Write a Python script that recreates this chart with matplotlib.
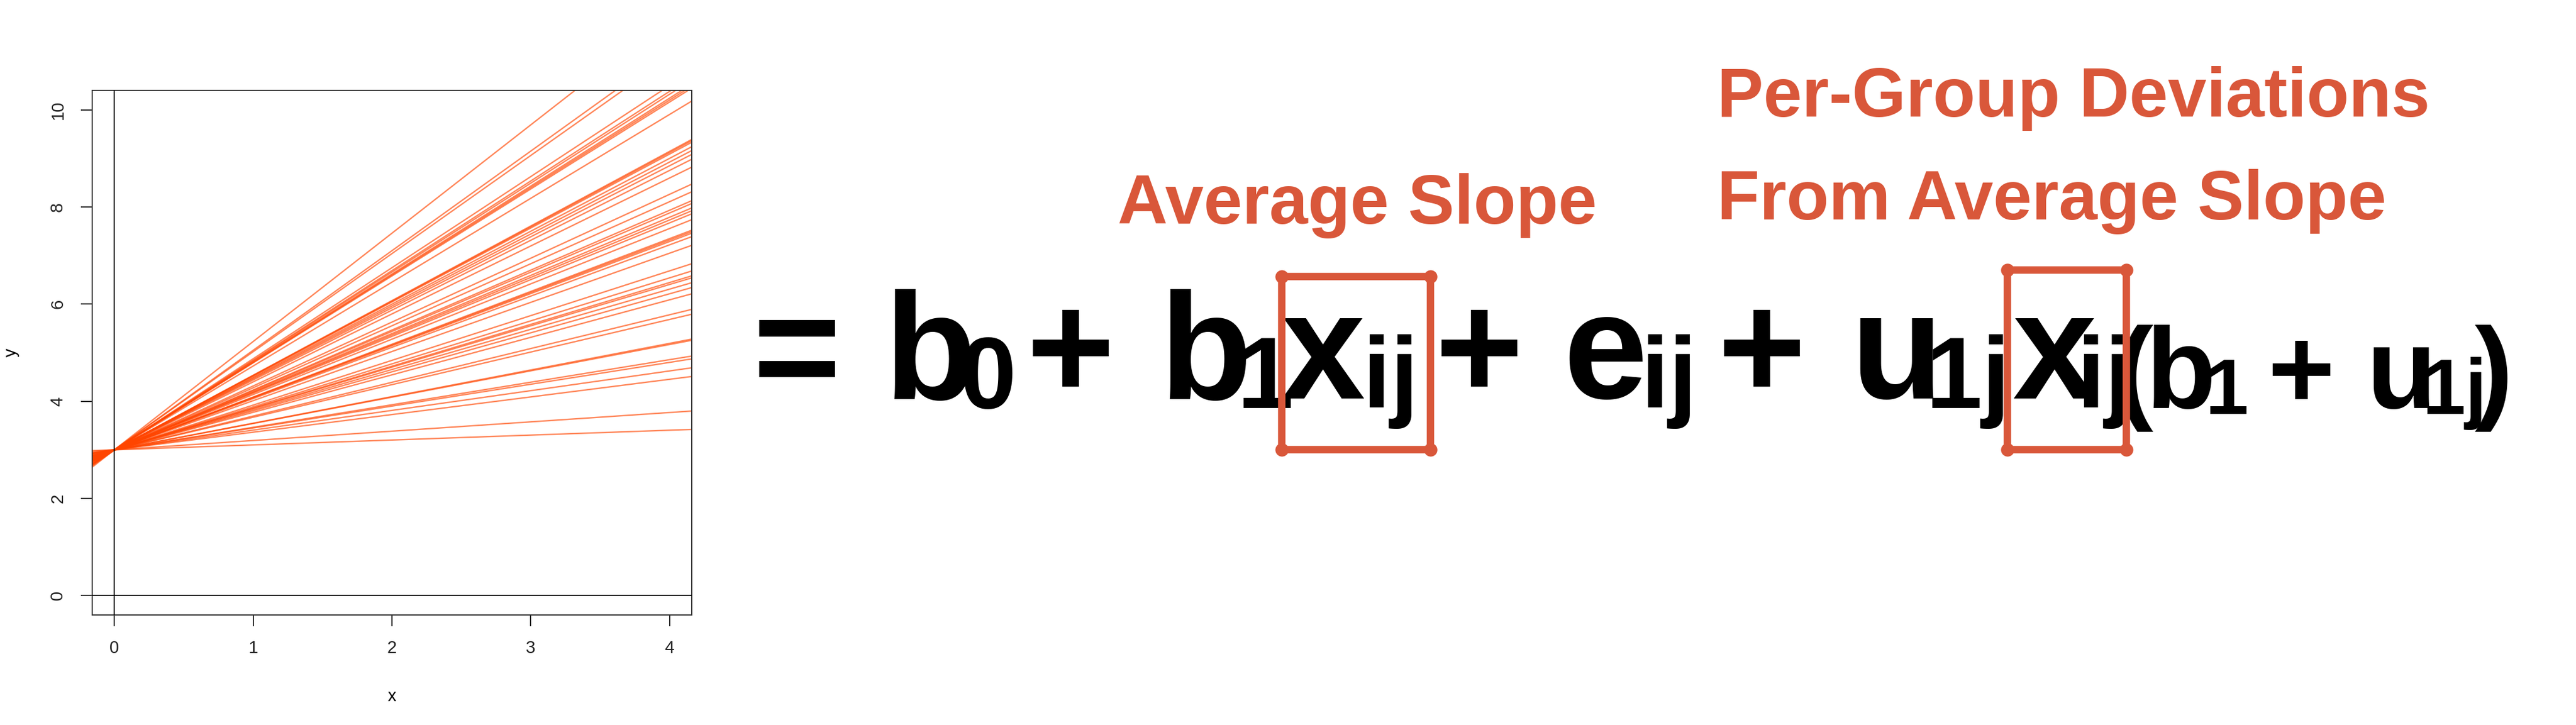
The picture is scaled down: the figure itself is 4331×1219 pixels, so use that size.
import matplotlib
matplotlib.use("Agg")
import matplotlib.pyplot as plt
from matplotlib.patches import FancyBboxPatch

# ---- data: random-slope lines, all through the same intercept ----
intercept = 3.0
slopes = [2.23, 2.05, 2.02, 1.875, 1.845, 1.83, 1.81, 1.80, 1.79,
          1.726, 1.536, 1.530, 1.522, 1.500, 1.481, 1.462, 1.438, 1.399,
          1.315, 1.277, 1.233, 1.219, 1.197, 1.183, 1.168, 1.139, 1.087,
          1.080, 1.072, 1.055, 1.012, 0.921, 0.885, 0.861, 0.851, 0.827,
          0.803, 0.772, 0.695, 0.671, 0.548, 0.542, 0.464, 0.450, 0.406,
          0.363, 0.192, 0.101]
x_ticks = [0, 1, 2, 3, 4]
y_ticks = [0, 2, 4, 6, 8, 10]
x_label = "x"
y_label = "y"

W, H = 4331, 1219
DPI = 100
ORANGE = "#D9573A"
LINE = "#FF4500"

fig = plt.figure(figsize=(W / DPI, H / DPI), dpi=DPI)
fig.patch.set_facecolor("white")

# ---- left: R-style plot ----
ax = fig.add_axes([155 / W, (H - 1034) / H, (1163 - 155) / W, (1034 - 152) / H])
ax.set_xlim(-0.16, 4.16)
ax.set_ylim(-0.4, 10.4)
for s in slopes:
    ax.axline((0, intercept), slope=s, color=LINE, lw=1.7, alpha=0.65, zorder=2)
ax.axhline(0, color="black", lw=1.4, zorder=3)
ax.axvline(0, color="black", lw=1.4, zorder=3)

ax.set_xticks(x_ticks)
ax.set_yticks(y_ticks)
ax.set_yticklabels([str(v) for v in y_ticks], rotation=90, va="center")
ax.tick_params(direction="out", length=13.5, width=1.4, labelsize=21,
               colors="#222222")
ax.tick_params(axis="x", pad=17)
ax.tick_params(axis="y", pad=18)
for sp in ax.spines.values():
    sp.set_linewidth(1.4)
    sp.set_color("#333333")
for lab in ax.get_xticklabels() + ax.get_yticklabels():
    lab.set_family("Liberation Sans")
ax.set_xlabel(x_label, fontsize=21, family="Liberation Sans", labelpad=38)
ax.set_ylabel(y_label, fontsize=21, family="Liberation Sans", labelpad=36)

# ---- right: equation drawn in pixel coordinates ----
ov = fig.add_axes([0, 0, 1, 1])
ov.set_xlim(0, W)
ov.set_ylim(H, 0)
ov.axis("off")
ov.patch.set_visible(False)

MAIN, SUB, MID, SMALL = 183, 123, 139, 94
LABEL = 84


def piece(txt, x, base, size, color="black"):
    ov.text(x, base, txt, fontsize=size, fontweight="bold",
            family="Liberation Sans", color=color,
            ha="left", va="baseline", zorder=3)


eq = [
    ("=", 1266, 670, MAIN), ("b", 1486, 670, MAIN), ("0", 1613, 686, SUB),
    ("+", 1725, 670, MAIN), ("b", 1949, 670, MAIN), ("1", 2079, 686, SUB),
    ("x", 2153, 670, MAIN), ("ij", 2290, 686, SUB),
    ("+", 2412, 670, MAIN), ("e", 2628, 670, MAIN), ("ij", 2758, 686, SUB),
    ("+", 2887, 670, MAIN), ("u", 3111, 670, MAIN), ("1j", 3237, 686, SUB),
    ("x", 3383, 670, MAIN), ("ij", 3491, 686, SUB),
    ("(", 3555, 686, MID), ("b", 3607, 686, MID), ("1", 3708, 696, SMALL),
    ("+", 3813, 686, MID), ("u", 3979, 686, MID), ("1j", 4073, 696, SMALL),
    (")", 4161, 686, MID),
]
for txt, x, base, size in eq:
    piece(txt, x, base, size)

piece("Average Slope", 1879, 376, LABEL, ORANGE)
piece("Per-Group Deviations", 2887, 196, LABEL, ORANGE)
piece("From Average Slope", 2887, 369, LABEL, ORANGE)

# hand-drawn style boxes around the x_ij terms
for (x0, y0, x1, y1) in [(2155, 465, 2405, 756), (3375, 454, 3575, 756)]:
    box = FancyBboxPatch((x0, y0), x1 - x0, y1 - y0,
                         boxstyle="round,pad=0,rounding_size=10",
                         fill=False, ec=ORANGE, lw=9, zorder=5)
    ov.add_patch(box)
    ov.scatter([x0, x1, x0, x1], [y0, y0, y1, y1], s=260, color=ORANGE,
               zorder=6, linewidths=0)

fig.savefig("out.png", dpi=DPI, facecolor="white")
